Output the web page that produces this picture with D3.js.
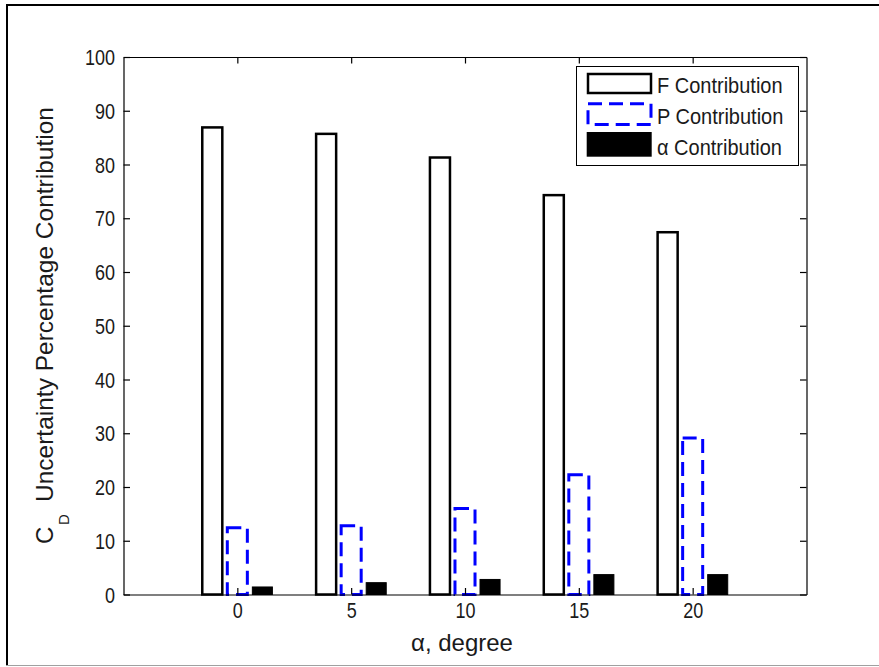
<!DOCTYPE html>
<html>
<head>
<meta charset="utf-8">
<script src="https://cdn.jsdelivr.net/npm/d3@7"></script>
<style>
  html, body { margin: 0; padding: 0; background: #fff; }
  svg { display: block; font-family: "Liberation Sans", Arial, Helvetica, sans-serif; }
</style>
</head>
<body>
<svg id="chart" width="879" height="667"></svg>
<script>
// ---- data ----
const categories = [0, 5, 10, 15, 20];
const fValues = [86.9, 85.7, 81.3, 74.3, 67.4];
const pValues = [12.4, 12.8, 16.0, 22.3, 29.1];
const aValues = [1.4, 2.2, 2.8, 3.7, 3.7];
const seriesNames = ["F Contribution", "P Contribution", "\u03B1 Contribution"];
const yTicks = [0, 10, 20, 30, 40, 50, 60, 70, 80, 90, 100];
const xTicks = [0, 5, 10, 15, 20];
const xDomain = [-5, 25];
const yDomain = [0, 100];

// ---- layout ----
const W = 879, H = 667;
const plot = { left: 123.5, right: 806.5, top: 57, bottom: 594.5 };
const svg = d3.select("#chart");

// outer frame
svg.append("line").attr("x1", 6).attr("x2", W).attr("y1", 5).attr("y2", 5)
  .attr("stroke", "#000").attr("stroke-width", 2);
svg.append("line").attr("x1", 7).attr("x2", 7).attr("y1", 4).attr("y2", 666)
  .attr("stroke", "#000").attr("stroke-width", 2);
svg.append("line").attr("x1", 6).attr("x2", W).attr("y1", 665.5).attr("y2", 665.5)
  .attr("stroke", "#a0a0a0").attr("stroke-width", 1);

const x = d3.scaleLinear().domain(xDomain).range([plot.left, plot.right]);
const y = d3.scaleLinear().domain(yDomain).range([plot.bottom, plot.top]);

// ---- bars ----
const series = [
  { name: seriesNames[0], values: fValues, fill: "#fff", stroke: "#000", sw: 2.5, dash: null },
  { name: seriesNames[1], values: pValues, fill: "#fff", stroke: "#0000ff", sw: 3, dash: "14,7" },
  { name: seriesNames[2], values: aValues, fill: "#000", stroke: "#000", sw: 1, dash: null }
];
const groupStep = 1.1, barW = 0.88;
const barsG = svg.append("g");
series.forEach((s, i) => {
  const off = (i - 1) * groupStep;
  barsG.selectAll(null).data(categories.map((c, k) => ({ c, v: s.values[k] })))
    .enter().append("rect")
    .attr("x", d => x(d.c + off - barW / 2))
    .attr("width", d => x(d.c + off + barW / 2) - x(d.c + off - barW / 2))
    .attr("y", d => y(d.v))
    .attr("height", d => y(0) - y(d.v))
    .attr("fill", s.fill)
    .attr("stroke", s.stroke)
    .attr("stroke-width", s.sw)
    .attr("stroke-dasharray", s.dash);
});

// ---- axes ----
const tickLen = 6.5;
const textScale = 1.18;
const tickFont = 18;

const gx = svg.append("g").attr("transform", `translate(0,${plot.bottom})`)
  .call(d3.axisBottom(x).tickValues(xTicks).tickSize(-tickLen).tickSizeOuter(0));
gx.selectAll("text")
  .attr("y", 0).attr("dy", null)
  .attr("transform", `translate(0,23.5) scale(1,${textScale})`)
  .attr("font-size", tickFont).attr("font-family", null).attr("fill", "#1a1a1a");

const gy = svg.append("g").attr("transform", `translate(${plot.left},0)`)
  .call(d3.axisLeft(y).tickValues(yTicks).tickSize(-tickLen).tickSizeOuter(0));
gy.selectAll("text")
  .attr("x", 0).attr("dy", null)
  .attr("transform", `translate(-8.5,7.6) scale(1,${textScale})`)
  .attr("font-size", tickFont).attr("font-family", null).attr("fill", "#1a1a1a");

svg.append("g").attr("transform", `translate(0,${plot.top})`)
  .call(d3.axisTop(x).tickValues(xTicks).tickSize(-tickLen).tickSizeOuter(0).tickFormat(""));
svg.append("g").attr("transform", `translate(${plot.right},0)`)
  .call(d3.axisRight(y).tickValues(yTicks).tickSize(-tickLen).tickSizeOuter(0).tickFormat(""));

svg.selectAll(".domain").attr("stroke", "#000").attr("stroke-width", 1.2);
svg.selectAll(".tick line").attr("stroke", "#000").attr("stroke-width", 1.2);

// ---- axis labels ----
svg.append("text")
  .attr("x", 462).attr("y", 651)
  .attr("text-anchor", "middle")
  .attr("font-size", 24).attr("fill", "#1a1a1a")
  .text("\u03B1, degree");

const yl = svg.append("g").attr("transform", "translate(53,544) rotate(-90)");
yl.append("text").attr("x", 0).attr("y", 0).attr("font-size", 24).attr("fill", "#1a1a1a").text("C");
yl.append("text").attr("x", 19).attr("y", 16).attr("font-size", 15).attr("fill", "#1a1a1a").text("D");
yl.append("text").attr("x", 42).attr("y", 0).attr("font-size", 24.5).attr("fill", "#1a1a1a")
  .text("Uncertainty Percentage Contribution");

// ---- legend ----
const lg = svg.append("g");
lg.append("rect").attr("x", 576.5).attr("y", 66.5).attr("width", 222).attr("height", 99)
  .attr("fill", "#fff").attr("stroke", "#000").attr("stroke-width", 1);
const swatchY = [74, 103.8, 132];
const swatchH = [19, 20.7, 24.7];
const textBase = [93, 124, 155];
series.forEach((s, i) => {
  lg.append("rect")
    .attr("x", i === 2 ? 586.7 : 588).attr("y", swatchY[i])
    .attr("width", i === 2 ? 65 : 63).attr("height", swatchH[i])
    .attr("fill", s.fill).attr("stroke", i === 2 ? "none" : s.stroke)
    .attr("stroke-width", s.sw).attr("stroke-dasharray", s.dash);
  lg.append("text")
    .attr("transform", `translate(657,${textBase[i]}) scale(1,1.1)`)
    .attr("font-size", 20).attr("fill", "#1a1a1a")
    .text(s.name);
});
</script>
</body>
</html>
